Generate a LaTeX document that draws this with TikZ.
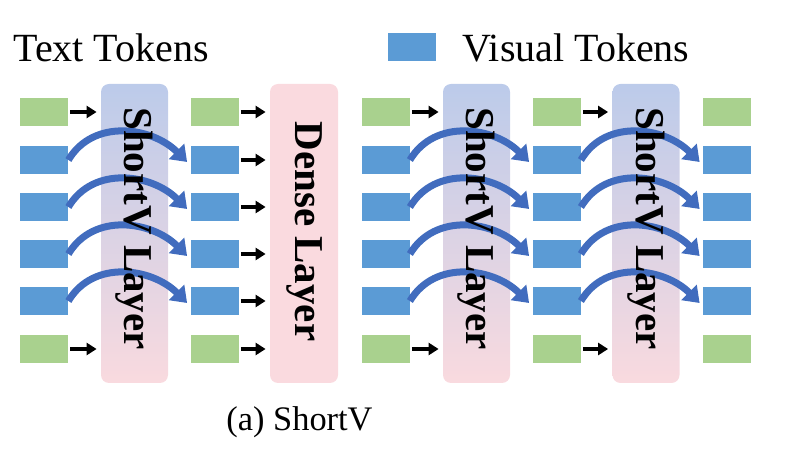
\documentclass[tikz,border=0pt]{standalone}
\usepackage{fontspec}
\setmainfont{Liberation Serif}
\usetikzlibrary{
arrows.meta,
positioning
}
\definecolor{SVGreen}{HTML}{A9D18E}
\definecolor{SVBlue}{HTML}{5B9BD5}
\definecolor{SVLayTop}{HTML}{BCCBEA}
\definecolor{SVLayBot}{HTML}{F9DADF}
\definecolor{SVDense}{HTML}{FADADF}
\definecolor{SVSkip}{HTML}{416CBE}
\tikzset{
svtokgreen/.style={fill=SVGreen, minimum width=24pt, minimum height=14pt, inner sep=0pt},
svtokblue/.style={fill=SVBlue, minimum width=24pt, minimum height=14pt, inner sep=0pt},
svlayer/.style={rounded corners=4pt, top color=SVLayTop, bottom color=SVLayBot,
  minimum width=33.5pt, minimum height=149.5pt, inner sep=0pt},
svdense/.style={rounded corners=4pt, fill=SVDense,
  minimum width=34pt, minimum height=149.5pt, inner sep=0pt},
svlaytext/.style={rotate=-90, font=\fontsize{20.5}{24}\selectfont\bfseries},
svtitle/.style={anchor=base west, inner sep=0pt, font=\fontsize{20}{24}\selectfont},
svarrow/.style={-{Triangle[length=5pt,width=6pt]}, line width=2pt,
  shorten <=1pt, shorten >=2pt},
svskip/.style={-{Triangle[length=7.5pt,width=10.5pt]}, line width=3.5pt, draw=SVSkip}
}
\begin{document}
\begin{tikzpicture}[x=0.5pt,y=0.5pt]
\useasboundingbox (0,0) rectangle (808,455);
% token columns
\foreach \c/\x in {1/44,2/214.5,3/385.5,4/556.5,5/727} {
  \node[svtokgreen] (t\c-1) at (\x,343) {};
  \foreach \r/\y in {2/295,3/248,4/201,5/154}
    \node[svtokblue] (t\c-\r) at (\x,\y) {};
  \node[svtokgreen] (t\c-6) at (\x,106) {};
}
% layers
\node[svlayer] (sv1) at (134.5,221.5) {};
\node[svdense] (dense) at (304,221.5) {};
\node[svlayer] (sv2) at (476.5,221.5) {};
\node[svlayer] (sv3) at (646,221.5) {};

\foreach \c/\l in {1/sv1,3/sv2,4/sv3} {
  \draw[svarrow] (t\c-1) -- (\l.west |- t\c-1);
  \draw[svarrow] (t\c-6) -- (\l.west |- t\c-6);
}
\foreach \r in {1,...,6}
  \draw[svarrow] (t2-\r) -- (dense.west |- t2-\r);

% skipped visual tokens
\foreach \a/\b in {1/2,3/4,4/5}
  \foreach \r in {2,...,5}
    \draw[svskip] (t\a-\r.east) .. controls +(25,42) and +(-35,35)
      .. ([xshift=-1.5pt,yshift=-1pt]t\b-\r.west);

\node[svlaytext, xshift=-2.5pt] (sv1txt) at (sv1) {ShortV Layer};
\node[svlaytext, xshift=-1pt] (densetxt) at (dense) {Dense Layer};
\node[svlaytext, xshift=-2.5pt] (sv2txt) at (sv2) {ShortV Layer};
\node[svlaytext, xshift=-2.5pt] (sv3txt) at (sv3) {ShortV Layer};

% legend and caption
\node[svtitle] (texttok) at (13,393) {Text Tokens};
\node[svtokblue] (legvis) at (412,408) {};
\node[svtitle] (vistok) at (462,393) {Visual Tokens};
\node[svtitle, font=\fontsize{17.2}{20}\selectfont] (cap) at (226,25) {(a) ShortV};
\end{tikzpicture}
\end{document}
